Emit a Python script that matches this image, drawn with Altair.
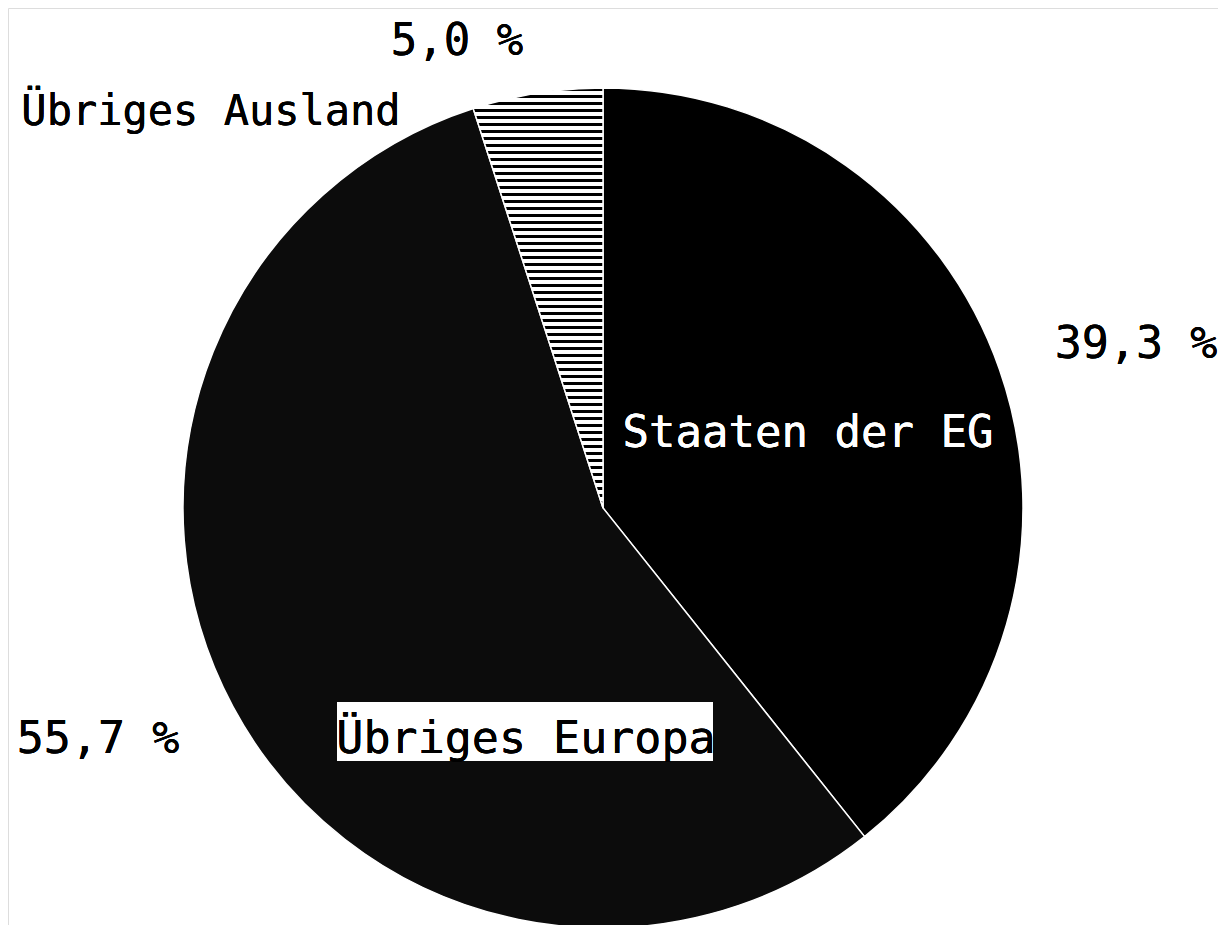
import altair as alt
import pandas as pd

# ---- data ----
categories = ["Staaten der EG", "Übriges Europa", "Übriges Ausland"]
shares = [39.3, 55.7, 5.0]
order = [1, 2, 3]
pct_labels = ["39,3 %", "55,7 %", "5,0 %"]

df = pd.DataFrame({"cat": categories, "share": shares, "ord": order})

# ---- styles ----
CX, CY, R = 595, 500, 420
FONT = "DejaVu Sans Mono"

# horizontal stripe pattern for the small slice (linear gradient with hard stops)
n_stripes = 60
stops = []
for i in range(n_stripes):
    a = i / n_stripes
    b = (i + 0.42) / n_stripes
    c = (i + 1) / n_stripes
    stops += [
        {"offset": a, "color": "#000000"},
        {"offset": b, "color": "#000000"},
        {"offset": b, "color": "#ffffff"},
        {"offset": c, "color": "#ffffff"},
    ]
stripes = {"gradient": "linear", "x1": 0, "y1": 0, "x2": 0, "y2": 1, "stops": stops}

fill = (
    alt.when(alt.datum.cat == categories[0]).then(alt.value("#000000"))
    .when(alt.datum.cat == categories[2]).then(alt.value(stripes))
    .otherwise(alt.value("#0c0c0c"))
)

pie = alt.Chart(df).mark_arc(radius=R, stroke="white", strokeWidth=1.5).encode(
    theta=alt.Theta("share:Q", stack=True),
    order=alt.Order("ord:Q"),
    fill=fill,
    x=alt.value(CX),
    y=alt.value(CY),
)

# label box behind "Übriges Europa"
box = alt.Chart(df).mark_rect(color="white").encode(
    x=alt.value(329), x2=alt.value(705), y=alt.value(694), y2=alt.value(753)
)

label_layout = [
    # text, x, y, size, color
    (pct_labels[2], 449, 47, 44, "black"),
    (categories[2], 203, 117, 42, "black"),
    (pct_labels[0], 1128, 350, 45, "black"),
    (categories[0], 800, 439, 44, "white"),
    (pct_labels[1], 90, 745, 45, "black"),
    (categories[1], 518, 745, 45, "black"),
]

texts = []
for t, x, y, s, c in label_layout:
    texts.append(
        alt.Chart(df).mark_text(
            text=t, font=FONT, fontSize=s, color=c, align="center", baseline="alphabetic"
        ).encode(x=alt.value(x), y=alt.value(y))
    )

chart = alt.layer(pie, box, *texts).properties(
    width=1210, height=917, padding=0, autosize=alt.AutoSizeParams(type="none")
).configure_view(stroke="transparent", strokeWidth=0).configure(background="transparent")

chart.save("out.html", embed_options={"renderer": "svg", "actions": False})
